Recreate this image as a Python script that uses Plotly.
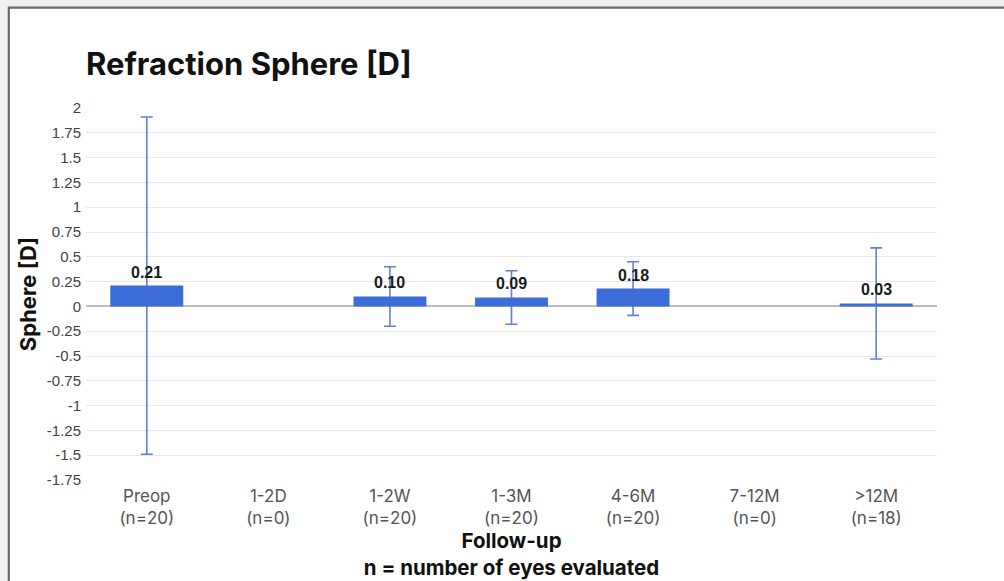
import plotly.graph_objects as go

categories = ["Preop<br>(n=20)", "1-2D<br>(n=0)", "1-2W<br>(n=20)", "1-3M<br>(n=20)",
              "4-6M<br>(n=20)", "7-12M<br>(n=0)", ">12M<br>(n=18)"]
means = [0.21, None, 0.10, 0.09, 0.18, None, 0.03]
sds = [1.70, None, 0.30, 0.27, 0.27, None, 0.56]
y_ticks = [2, 1.75, 1.5, 1.25, 1, 0.75, 0.5, 0.25, 0, -0.25, -0.5, -0.75, -1, -1.25, -1.5, -1.75]
y_tick_text = ["2", "1.75", "1.5", "1.25", "1", "0.75", "0.5", "0.25", "0", "-0.25", "-0.5",
               "-0.75", "-1", "-1.25", "-1.5", "-1.75"]

BAR = "#3C6DDB"
ERR = "rgba(70,108,205,0.85)"

fig = go.Figure()
fig.add_trace(go.Bar(
    x=categories, y=means,
    marker=dict(color=BAR, line=dict(width=0)),
    error_y=dict(type="data", array=sds, visible=True, color=ERR, thickness=1.6, width=6),
    width=0.6,
    showlegend=False,
    hoverinfo="x+y",
))

annotations = []
for c, m in zip(categories, means):
    if m is None:
        continue
    annotations.append(dict(
        x=c, y=m, xref="x", yref="y", text=f"<b>{m:.2f}</b>", showarrow=False,
        yanchor="bottom", yshift=3,
        font=dict(family="Liberation Sans, Arial", size=16, color="#1a1a1a"),
    ))

# frame (outer light strip + dark border on left/top)
W, H = 1004, 581
L, R, T, B = 86, 67, 108, 101
pw, ph = W - L - R, H - T - B

def px(x):
    return (x - L) / pw

def py(y):
    return (H - B - y) / ph

shapes = [
    dict(type="rect", xref="paper", yref="paper", x0=px(0), x1=px(8), y0=py(H), y1=py(0),
         fillcolor="#f1f1f1", line=dict(width=0), layer="above"),
    dict(type="rect", xref="paper", yref="paper", x0=px(0), x1=px(W), y0=py(7), y1=py(0),
         fillcolor="#f1f1f1", line=dict(width=0), layer="above"),
    dict(type="line", xref="paper", yref="paper", x0=px(8.8), x1=px(8.8), y0=py(7), y1=py(H),
         line=dict(color="#6a6a6a", width=2.2), layer="above"),
    dict(type="line", xref="paper", yref="paper", x0=px(8), x1=px(W), y0=py(7.6), y1=py(7.6),
         line=dict(color="#6a6a6a", width=2.2), layer="above"),
]

fig.update_layout(
    width=W, height=H,
    margin=dict(l=L, r=R, t=T, b=B),
    paper_bgcolor="white", plot_bgcolor="white",
    title=dict(text="<b>Refraction Sphere [D]</b>", x=px(86), xref="paper", xanchor="left",
               y=1 - 64 / H, yref="container", yanchor="middle",
               font=dict(family="Inter", size=31, color="#111")),
    xaxis=dict(
        tickfont=dict(family="Inter", size=17, color="#555"),
        showgrid=False, ticks="", showline=False, ticklabelstandoff=4,
        title=dict(text="<b>Follow-up</b><br><b>n = number of eyes evaluated</b>",
                   font=dict(family="Inter", size=20.5, color="#111"), standoff=2),
        automargin=False,
    ),
    yaxis=dict(
        range=[-1.75, 2], tickvals=y_ticks, ticktext=y_tick_text,
        tickfont=dict(family="Liberation Sans, Arial", size=15, color="#444"),
        showgrid=True, gridcolor="#e8e8e8", gridwidth=1,
        zeroline=True, zerolinecolor="#bdbdbd", zerolinewidth=1.5,
        ticks="", showline=False, ticklabelstandoff=4,
        title=dict(text="<b>Sphere [D]</b>", font=dict(family="Inter", size=22, color="#111"),
                   standoff=4),
        automargin=False,
    ),
    annotations=annotations,
    shapes=shapes,
    bargap=0.4,
)

fig.write_html("out.html", config={"displayModeBar": False},
               post_script="document.body.style.margin='0';document.body.style.overflow='hidden';")
